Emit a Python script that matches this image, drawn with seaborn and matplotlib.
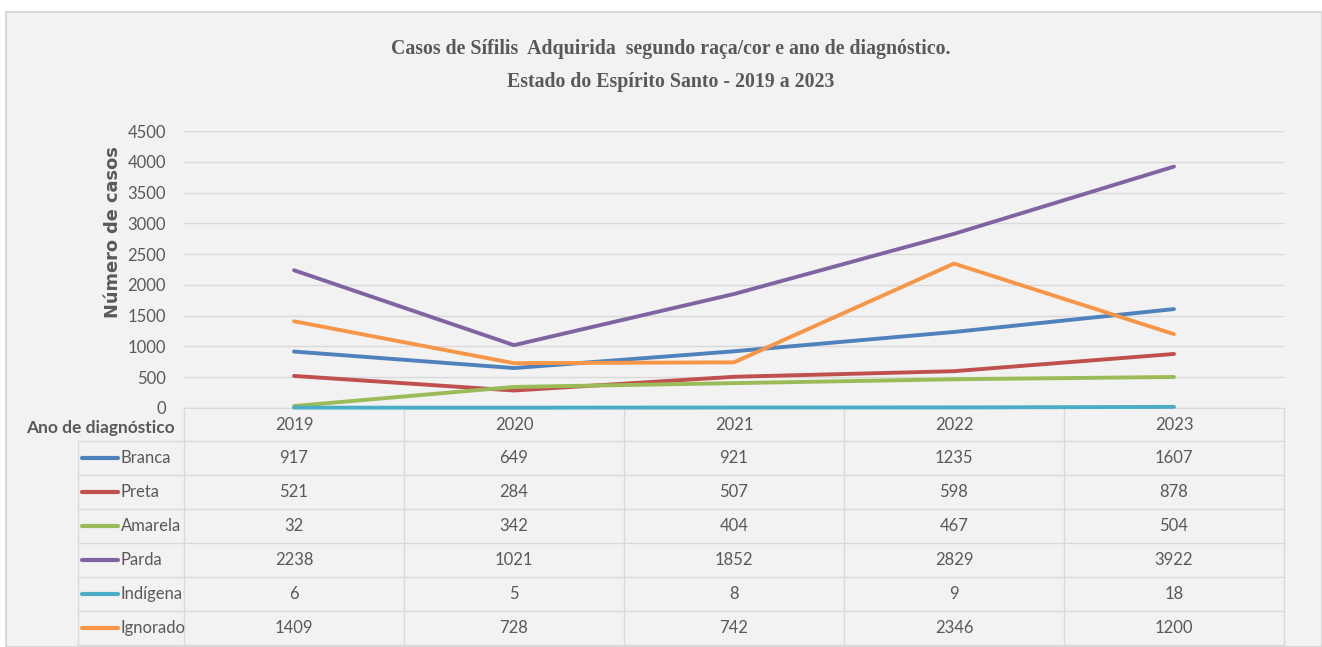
import matplotlib
matplotlib.use("Agg")
import matplotlib.pyplot as plt
import matplotlib.patches as mpatches
import seaborn as sns
import pandas as pd

anos = ["2019", "2020", "2021", "2022", "2023"]
racas = ["Branca", "Preta", "Amarela", "Parda", "Indígena", "Ignorado"]
branca = [917, 649, 921, 1235, 1607]
preta = [521, 284, 507, 598, 878]
amarela = [32, 342, 404, 467, 504]
parda = [2238, 1021, 1852, 2829, 3922]
indigena = [6, 5, 8, 9, 18]
ignorado = [1409, 728, 742, 2346, 1200]
valores = [branca, preta, amarela, parda, indigena, ignorado]
cores = ["#4F81BD", "#C0504D", "#9BBB59", "#8064A2", "#4BACC6", "#F79646"]

linhas = []
for r, vals in zip(racas, valores):
    for a, v in zip(anos, vals):
        linhas.append({"ano": a, "raca": r, "casos": v})
df = pd.DataFrame(linhas)

sns.set_style("white")
plt.rcParams["font.family"] = ["Liberation Sans Narrow", "Lato", "DejaVu Sans"]

W, H = 1322, 647
fig = plt.figure(figsize=(W / 100, H / 100), dpi=100, facecolor="white")

# fundo e tabela em coordenadas de pixel
bg = fig.add_axes([0, 0, 1, 1])
bg.set_xlim(0, W)
bg.set_ylim(H, 0)
bg.axis("off")
bg.add_patch(mpatches.Rectangle((6, 12), W - 6, H - 12, facecolor="#f2f2f2",
                                edgecolor="#d9d9d9", linewidth=1.5))

gray = "#595959"
grid = "#d9d9d9"
x0, x1 = 184, 1284
col_w = (x1 - x0) / len(anos)
top, head_b = 408, 441
row_h = (645 - head_b) / len(racas)

bg.plot([x0, x0], [top, 645], color=grid, lw=1)
bg.plot([78, 78], [head_b, 645], color=grid, lw=1)
for i in range(1, len(anos) + 1):
    bg.plot([x0 + i * col_w] * 2, [top, 645], color=grid, lw=1)
bg.plot([78, x1], [head_b, head_b], color=grid, lw=1)
for j in range(1, len(racas) + 1):
    y = head_b + j * row_h
    bg.plot([78, x1], [y, y], color=grid, lw=1)

for i, a in enumerate(anos):
    bg.text(x0 + (i + 0.5) * col_w, (top + head_b) / 2 + 1, a, ha="center",
            va="center", fontsize=12, color=gray)
for j, (r, vals, c) in enumerate(zip(racas, valores, cores)):
    yc = head_b + (j + 0.5) * row_h
    bg.plot([82, 118], [yc, yc], color=c, lw=3, solid_capstyle="round")
    bg.text(121, yc, r, ha="left", va="center", fontsize=12, color=gray)
    for i, v in enumerate(vals):
        bg.text(x0 + (i + 0.5) * col_w, yc, str(v), ha="center", va="center",
                fontsize=12, color=gray)

bg.text(100, 428, "Ano de diagnóstico", ha="center", va="center", fontsize=12.5,
        fontweight="bold", color=gray)
bg.text(113, 232, "Número de casos", ha="center", va="center", rotation=90,
        fontsize=12.8, fontweight="bold", color=gray, family=["DejaVu Sans"])

fig.text(671 / W, 1 - 49 / H, "Casos de Sífilis  Adquirida  segundo raça/cor e ano de diagnóstico.",
         ha="center", va="center", fontsize=14.3, fontweight="bold", color=gray,
         family=["Liberation Serif", "DejaVu Serif"])
fig.text(671 / W, 1 - 82 / H, "Estado do Espírito Santo - 2019 a 2023",
         ha="center", va="center", fontsize=14.3, fontweight="bold", color=gray,
         family=["Liberation Serif", "DejaVu Serif"])

ax = fig.add_axes([x0 / W, 1 - 408 / H, (x1 - x0) / W, (408 - 131) / H])
ax.set_facecolor("none")
sns.lineplot(data=df, x="ano", y="casos", hue="raca", palette=dict(zip(racas, cores)),
             hue_order=racas, linewidth=2.8, ax=ax, legend=False, sort=False)
for ln in ax.lines:
    ln.set_clip_on(False)
    ln.set_zorder(4)
ax.set_xlim(-0.5, len(anos) - 0.5)
ax.set_ylim(0, 4500)
ax.set_yticks(range(0, 4501, 500))
ax.set_xticks([])
ax.set_xlabel("")
ax.set_ylabel("")
ax.tick_params(axis="y", labelsize=12, labelcolor=gray, length=0, pad=13)
ax.grid(axis="y", color=grid, lw=1)
ax.set_axisbelow(True)
for s in ["top", "right", "left"]:
    ax.spines[s].set_visible(False)
ax.spines["bottom"].set_color(grid)

fig.savefig("out.png", dpi=100, facecolor="white")
